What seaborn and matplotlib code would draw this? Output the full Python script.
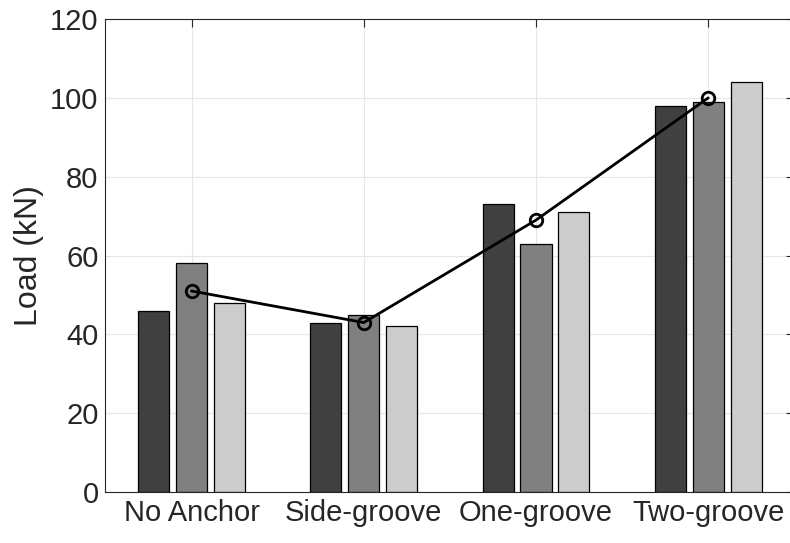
import pandas as pd
import seaborn as sns
import matplotlib.pyplot as plt

categories = ["No Anchor", "Side-groove", "One-groove", "Two-groove"]
specimens = ["S1", "S2", "S3"]
load_s1 = [46, 43, 73, 98]
load_s2 = [58, 45, 63, 99]
load_s3 = [48, 42, 71, 104]
load_mean = [51, 43, 69, 100]

bar_colors = ["#404040", "#808080", "#cccccc"]


def main():
    rows = []
    for spec, vals in zip(specimens, [load_s1, load_s2, load_s3]):
        for cat, v in zip(categories, vals):
            rows.append({"category": cat, "specimen": spec, "load": v})
    df = pd.DataFrame(rows)

    sns.set_style("white")
    plt.rcParams["font.family"] = ["Liberation Sans", "DejaVu Sans"]

    fig = plt.figure(figsize=(7.9, 5.43), dpi=100)
    ax = fig.add_axes([0.1335, 0.0939, 0.872, 0.871])

    sns.barplot(data=df, x="category", y="load", hue="specimen",
                palette=bar_colors, width=0.66, gap=0.18,
                edgecolor="black", linewidth=0.9, legend=False, ax=ax)

    line_df = pd.DataFrame({"x": range(len(categories)), "load": load_mean})
    sns.lineplot(data=line_df, x="x", y="load", color="black", linewidth=2,
                 marker="o", markersize=9, markerfacecolor="none",
                 markeredgecolor="black", markeredgewidth=2, ax=ax, zorder=5)

    ax.set_xlim(-0.5, 3.5)
    ax.set_ylim(0, 120)
    ax.set_yticks(range(0, 121, 20))
    ax.set_xticks(range(len(categories)))
    ax.set_xticklabels(categories)
    ax.set_xlabel("")
    ax.set_ylabel("Load (kN)", fontsize=23, color="#262626", labelpad=4)
    ax.grid(True, color="#e6e6e6", linewidth=0.8)
    ax.set_axisbelow(True)
    ax.tick_params(axis="both", direction="in", length=6, width=0.8,
                   labelsize=21, labelcolor="#262626", color="#262626",
                   top=True, right=True, pad=5)
    for sp in ax.spines.values():
        sp.set_color("#262626")
        sp.set_linewidth(0.8)
        sp.set_visible(True)

    fig.savefig("out.png", dpi=100)


if __name__ == "__main__":
    main()
